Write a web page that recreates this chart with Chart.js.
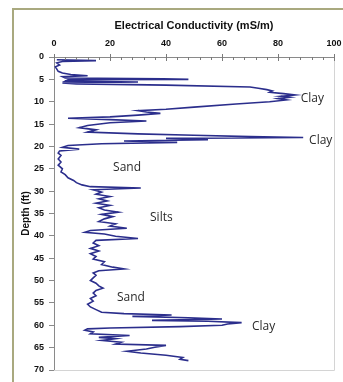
<!DOCTYPE html>
<html><head><meta charset="utf-8">
<script src="https://cdn.jsdelivr.net/npm/chart.js@4/dist/chart.umd.min.js"></script>
<style>
html,body{margin:0;padding:0;background:#fff;overflow:hidden}
#wrap{position:relative;width:343px;height:382px;overflow:hidden}
#frame{position:absolute;left:12px;top:8px;width:400px;height:400px;border-left:2px solid #a9a97f;border-top:2px solid #a9a97f;box-sizing:border-box}
canvas{position:absolute;left:0;top:0}
</style></head><body>
<div id="wrap"><div id="frame"></div><canvas id="c" width="343" height="382"></canvas></div>
<script>
const depthFt = [0.6,0.8,1.0,1.3,1.8,2.2,2.7,3.2,3.6,3.9,4.2,4.4,4.7,4.9,5.0,5.1,5.4,5.6,5.8,6.0,6.3,6.7,7.0,7.3,7.6,7.9,8.2,8.5,8.8,9.0,9.3,9.6,10.0,10.5,11.2,11.7,12.0,12.3,12.6,13.0,13.4,13.7,14.0,14.3,14.7,15.3,15.8,16.3,16.8,17.2,17.5,17.8,18.0,18.2,18.5,18.8,19.1,19.4,19.8,20.2,20.6,21.0,21.5,22.0,22.8,23.5,24.2,25.0,25.7,26.3,27.0,27.6,28.1,28.6,29.0,29.3,29.7,30.2,30.7,31.2,31.7,32.2,32.7,33.2,33.7,34.2,34.7,35.2,35.7,36.2,36.8,37.3,37.8,38.3,38.8,39.2,39.6,40.1,40.6,41.0,41.6,42.2,42.8,43.4,44.0,44.6,45.2,45.8,46.4,47.0,47.4,47.8,48.3,48.8,49.4,50.0,50.6,51.2,51.7,52.2,52.8,53.4,54.0,54.6,55.3,55.9,56.5,57.1,57.4,57.7,58.0,58.3,58.6,58.9,59.1,59.4,59.7,60.0,60.3,60.6,60.8,61.1,61.5,61.9,62.3,62.7,63.0,63.4,63.8,64.2,64.5,64.9,65.3,65.8,66.2,66.7,67.2,67.6,67.9];
const conductivity = [1,15,3,1,2,0.5,1,1.5,3,6,12,3,4,39,48,5,4,30,3,8,40,70,73,76,78,77,82,86,81,84,80,83,77,65,50,40,30,33,38,30,20,5,20,33,20,12,9,15,12,30,50,70,89,40,55,25,44,17,5,3,9,2,1.5,2.5,1.5,2.5,1.5,3,2.5,4,5,7,8,10,13,31,14,17,15,20,16,19,15,20,16,18,23,17,21,18,16,22,20,26,13,11,18,22,30,15,14,16,13,16,13,15,14,18,17,21,25,16,14,15,14,13,15,16,17.5,15,14,15,13,14,12,13,15,17,25,42,28,48,60,35,55,67,62,60,45,20,12,11,14,13,27,16,22,17,24,22,40,36,33,26,31,40,46,45,48];
const zoneLabels = ['Clay','Clay','Sand','Silts','Sand','Clay'];
const xAxisTitle = 'Electrical Conductivity (mS/m)';
const yAxisTitle = 'Depth (ft)';

// label anchor points in data space (layout)
const zoneAnchors = [[88.1,9.2],[91.1,18.6],[21.1,24.7],[34.3,35.9],[22.5,53.8],[70.7,60.2]];

const tickFont = {family:'"Liberation Sans", Arial, sans-serif', size:9, weight:'bold'};
const titleFont = {family:'"Liberation Sans", Arial, sans-serif', size:11, weight:'bold'};
const yTitleFont = {family:'"Liberation Sans", Arial, sans-serif', size:10, weight:'bold'};

const decor = {
  id:'decor',
  afterDraw(chart){
    const ctx = chart.ctx, a = chart.chartArea, xs = chart.scales.x, ys = chart.scales.y;
    ctx.save();
    ctx.strokeStyle = '#d4d4d4'; ctx.lineWidth = 1;
    ctx.beginPath();
    ctx.moveTo(a.right+0.5, a.top); ctx.lineTo(a.right+0.5, a.bottom+0.5);
    ctx.lineTo(a.left, a.bottom+0.5);
    ctx.stroke();
    ctx.strokeStyle = '#7a7a7a';
    ctx.beginPath();
    for (let v = 0; v <= 100; v += 4) {
      const px = Math.round(xs.getPixelForValue(v)) + 0.5;
      ctx.moveTo(px, a.top); ctx.lineTo(px, a.top + 3);
    }
    for (let v = 0; v <= 100; v += 20) {
      const px = Math.round(xs.getPixelForValue(v)) + 0.5;
      ctx.moveTo(px, a.top - 3); ctx.lineTo(px, a.top + 4);
    }
    ctx.stroke();
    ctx.fillStyle = '#2a2a2a';
    ctx.font = '12px "Open Sans", sans-serif';
    ctx.textAlign = 'left'; ctx.textBaseline = 'middle';
    zoneLabels.forEach((t,i)=>{
      ctx.fillText(t, xs.getPixelForValue(zoneAnchors[i][0]), ys.getPixelForValue(zoneAnchors[i][1]));
    });
    ctx.restore();
  }
};

new Chart(document.getElementById('c'), {
  type:'scatter',
  data:{datasets:[{
    data: depthFt.map((d,i)=>({x:conductivity[i], y:d})),
    showLine:true, pointRadius:0, borderColor:'#2b2e8c', borderWidth:1.6, tension:0
  }]},
  options:{
    responsive:false, animation:false,
    layout:{padding:{left:0,top:0,right:9,bottom:12}},
    plugins:{legend:{display:false}, tooltip:{enabled:false}},
    scales:{
      x:{type:'linear', position:'top', min:0, max:100,
        ticks:{stepSize:20, font:tickFont, color:'#111', padding:8, maxRotation:0},
        grid:{drawOnChartArea:false, drawTicks:false},
        border:{color:'#8a8a8a', width:1},
        title:{display:true, text:xAxisTitle, font:titleFont, color:'#111', padding:{top:19,bottom:0}},
        afterFit(s){ s.height = 57; s.paddingRight = 0; s.paddingLeft = 0; }
      },
      y:{type:'linear', reverse:true, min:0, max:70,
        ticks:{stepSize:5, font:tickFont, color:'#111', padding:5},
        grid:{drawOnChartArea:false, tickLength:5, color:'#8a8a8a'},
        border:{color:'#8a8a8a', width:1},
        title:{display:true, text:yAxisTitle, font:yTitleFont, color:'#111', padding:{top:20,bottom:0}},
        afterFit(s){ s.width = 54; s.paddingTop = 0; s.paddingBottom = 0; }
      }
    }
  },
  plugins:[decor]
});
</script>
</body></html>
